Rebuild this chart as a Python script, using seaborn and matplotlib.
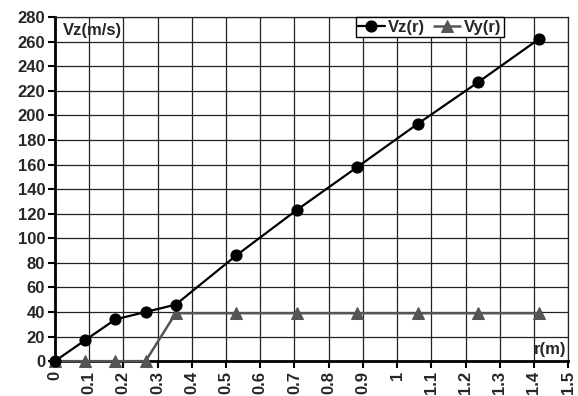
import matplotlib
matplotlib.use("Agg")
import matplotlib.pyplot as plt
import seaborn as sns
import pandas as pd

r = [0, 0.088, 0.177, 0.265, 0.353, 0.53, 0.707, 0.884, 1.06, 1.237, 1.414]
vz = [0, 17, 34, 40, 46, 86, 123, 158, 193, 227, 262]
vy = [0, 0, 0, 0, 39, 39, 39, 39, 39, 39, 39]
xticks = [0, 0.1, 0.2, 0.3, 0.4, 0.5, 0.6, 0.7, 0.8, 0.9, 1, 1.1, 1.2, 1.3, 1.4, 1.5]
yticks = list(range(0, 281, 20))

sns.set_theme(style="white")
plt.rcParams['font.family'] = ['Liberation Sans', 'DejaVu Sans']
plt.rcParams['font.weight'] = 'bold'

df = pd.DataFrame({"r": r, "Vz(r)": vz, "Vy(r)": vy})

fig = plt.figure(figsize=(5.78, 3.96), dpi=100)
ax = fig.add_axes([0.095, 0.088, 0.888, 0.869])

sns.lineplot(data=df, x="r", y="Vz(r)", ax=ax, color="black", marker="o",
             markersize=8, linewidth=1.6, markeredgecolor="black", label="Vz(r)",
             zorder=4, clip_on=False)
sns.lineplot(data=df, x="r", y="Vy(r)", ax=ax, color="#555555", marker="^",
             markersize=8, linewidth=1.8, markeredgecolor="#555555", label="Vy(r)",
             zorder=3, clip_on=False)

ax.set_xlim(0, 1.5)
ax.set_ylim(0, 280)
ax.set_xticks(xticks)
ax.set_xticklabels([f"{t:g}" for t in xticks], rotation=90, fontsize=12, fontweight="bold")
ax.set_yticks(yticks)
ax.set_yticklabels([str(t) for t in yticks], fontsize=12, fontweight="bold")
ax.grid(True, color="#222222", linewidth=0.9)
ax.set_xlabel("")
ax.set_ylabel("")
for s in ["top", "right"]:
    ax.spines[s].set_color("#222222")
    ax.spines[s].set_linewidth(0.9)
for s in ["left", "bottom"]:
    ax.spines[s].set_color("black")
    ax.spines[s].set_linewidth(2)
ax.tick_params(axis="both", which="major", direction="out", length=5, width=1.5,
               color="black", pad=2, left=True, bottom=True)

ax.text(0.015, 0.982, "Vz(m/s)", transform=ax.transAxes, ha="left", va="top",
        fontsize=12, fontweight="bold")
ax.text(0.997, 0.012, "r(m)", transform=ax.transAxes, ha="right", va="bottom",
        fontsize=12, fontweight="bold")

leg = ax.legend(loc="upper center", bbox_to_anchor=(0.73, 1.0), ncol=2, frameon=True,
                fancybox=False, edgecolor="black", framealpha=1, fontsize=12,
                handlelength=1.6, handletextpad=0.2, columnspacing=0.5,
                borderpad=0.15, borderaxespad=0)
leg.get_frame().set_linewidth(1)
for t in leg.get_texts():
    t.set_fontweight("bold")

fig.savefig("out.png", dpi=100)
